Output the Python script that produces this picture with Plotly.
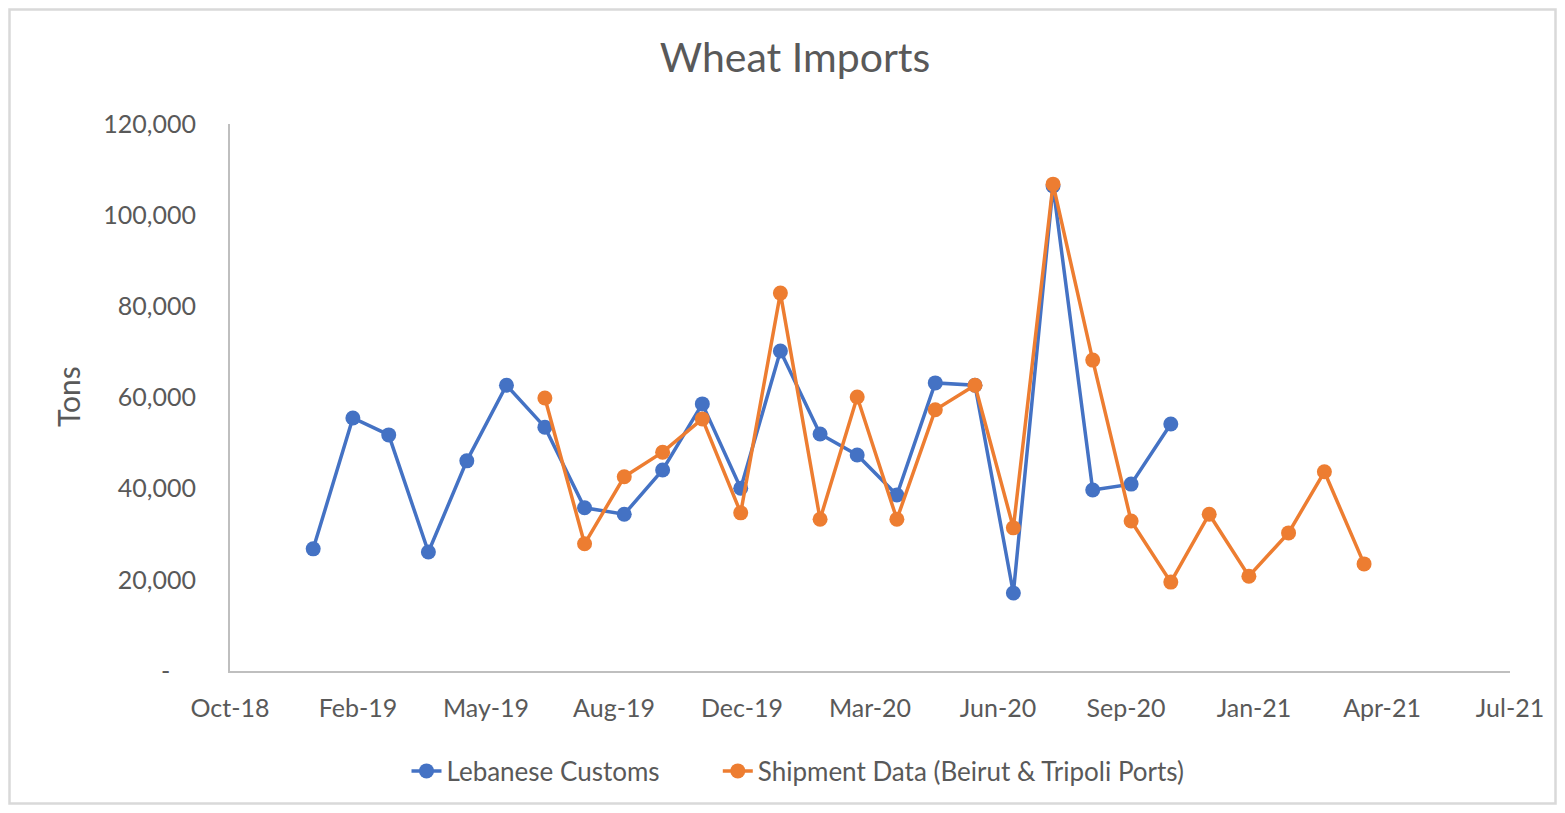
import plotly.graph_objects as go
import pandas as pd

# ---- data ----
customs_months = pd.date_range("2019-01-01", "2020-11-01", freq="MS")
customs_tons = [26800, 55500, 51800, 26100, 46100, 62700, 53500, 35800, 34400, 44100,
                58600, 40100, 70200, 52000, 47400, 38600, 63200, 62700, 17100, 106400,
                39700, 41000, 54200]

shipment_months = pd.date_range("2019-07-01", "2021-04-01", freq="MS")
shipment_tons = [59900, 27900, 42600, 48000, 55300, 34700, 82900, 33300, 60100, 33300,
                 57300, 62700, 31400, 106800, 68200, 32900, 19500, 34400, 20800, 30300,
                 43700, 23500]

y_tickvals = [0, 20000, 40000, 60000, 80000, 100000, 120000]
y_ticktext = ["-\u00a0\u00a0\u00a0\u00a0", "20,000", "40,000", "60,000", "80,000", "100,000", "120,000"]

BLUE = "#4472C4"
ORANGE = "#ED7D31"
GRAY = "#595959"
FONT = "Lato"

fig = go.Figure()
fig.add_trace(go.Scatter(x=customs_months, y=customs_tons, mode="lines+markers",
                         name="Lebanese Customs" + "\u00a0" * 8,
                         line=dict(color=BLUE, width=3.5),
                         marker=dict(color=BLUE, size=15)))
fig.add_trace(go.Scatter(x=shipment_months, y=shipment_tons, mode="lines+markers",
                         name="Shipment Data (Beirut & Tripoli Ports)",
                         line=dict(color=ORANGE, width=3.5),
                         marker=dict(color=ORANGE, size=15)))

OFF = 8  # page body margin
W, H = 1565 - 2 * OFF, 813 - 2 * OFF
L, T = 230 - OFF, 124 - OFF
R = W - (1510 - OFF)
B = H - (671 - OFF)
pw, ph = W - L - R, H - T - B

def px(x):
    return (x - OFF - L) / pw

def py(y):
    return (H - B - (y - OFF)) / ph

fig.update_layout(
    width=W, height=H,
    margin=dict(l=L, r=R, t=T, b=B),
    paper_bgcolor="white", plot_bgcolor="white",
    font=dict(family=FONT, color=GRAY, size=25),
    title=dict(text="Wheat Imports", x=(795 - OFF) / W, xanchor="center", xref="container",
               y=1 - (58 - OFF) / H, yanchor="middle", yref="container",
               font=dict(size=41, color=GRAY, family=FONT)),
    showlegend=True,
    legend=dict(orientation="h", xref="container", yref="container",
                x=(798 - OFF) / W, xanchor="center", y=1 - (771 - OFF) / H, yanchor="middle",
                font=dict(size=26, color=GRAY, family=FONT),
                bgcolor="rgba(0,0,0,0)"),
    xaxis=dict(type="date", range=["2018-10-28", "2021-07-24"],
               tick0="2018-10-28", dtick=86400000 * 100, tickformat="%b-%y",
               showgrid=False, zeroline=False, showline=True, linecolor="#BFBFBF",
               linewidth=2, ticks="", ticklabelstandoff=14,
               tickfont=dict(size=25, color=GRAY, family=FONT)),
    yaxis=dict(range=[0, 120000], tickvals=y_tickvals, ticktext=y_ticktext,
               showgrid=False, zeroline=False, showline=True, linecolor="#BFBFBF",
               linewidth=2, ticks="", ticklabelstandoff=27,
               tickfont=dict(size=25, color=GRAY, family=FONT)),
    annotations=[dict(text="Tons", xref="paper", yref="paper", x=px(68), y=py(397),
                      textangle=-90, showarrow=False, xanchor="center", yanchor="middle",
                      font=dict(size=30, color=GRAY, family=FONT))],
    shapes=[dict(type="rect", xref="paper", yref="paper",
                 x0=px(OFF + 1.5), x1=px(1565 - OFF - 1.5),
                 y0=py(813 - OFF - 1.5), y1=py(OFF + 1.5),
                 line=dict(color="#D9D9D9", width=2.5), layer="below")],
)

fig.write_html("out.html")
